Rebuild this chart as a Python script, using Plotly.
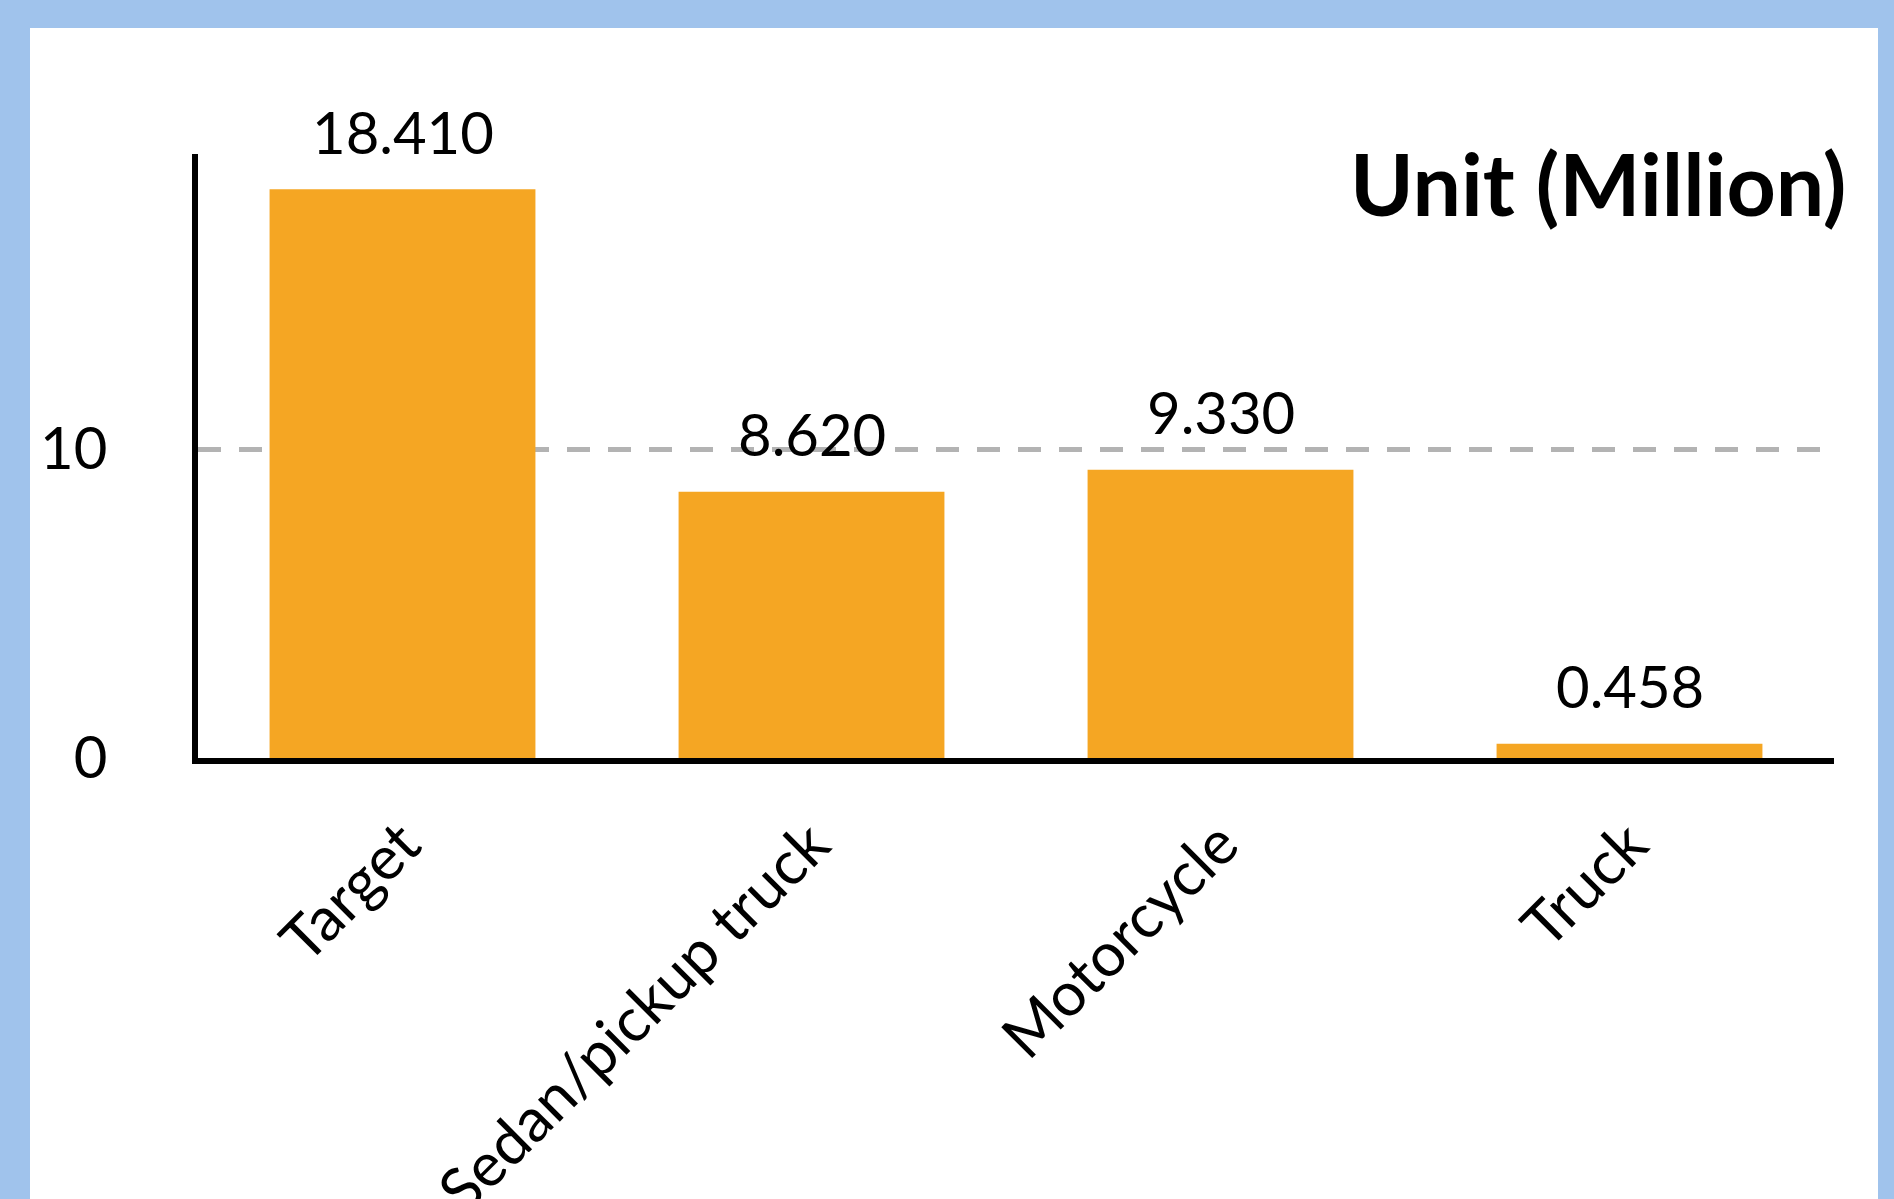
import plotly.graph_objects as go

# data
categories = ["Target", "Sedan/pickup truck", "Motorcycle", "Truck"]
units = [18.410, 8.620, 9.330, 0.458]
unit_labels = ["18.410", "8.620", "9.330", "0.458"]
y_ticks = [0, 10]

BAR_COLOR = "#F5A623"
BORDER_COLOR = "#a0c3ec"
FONT = "Lato"

W, H = 1894, 1199
L, R, T, B = 198, 60, 154, 441
pw = W - L - R
ph = H - T - B


def px_x(p):
    return (p - L) / pw


def px_y(p):
    return (H - B - p) / ph


fig = go.Figure()
fig.add_trace(go.Bar(
    x=categories,
    y=units,
    width=0.65,
    marker_color=BAR_COLOR,
    marker_line_width=0,
    hoverinfo="skip",
))

for c, v, t in zip(categories, units, unit_labels):
    fig.add_annotation(
        x=c, y=v, text=t, showarrow=False,
        yanchor="middle", yshift=58,
        font=dict(family=FONT, size=58, color="#000000"),
    )

fig.add_annotation(
    text="<b>Unit (Million)</b>",
    xref="paper", yref="paper",
    x=px_x(1848), y=px_y(183),
    xanchor="right", yanchor="middle",
    showarrow=False,
    font=dict(family=FONT, size=86, color="#000000"),
)

# patterned page border approximated with a solid frame
fig.add_shape(
    type="rect", xref="paper", yref="paper", layer="below",
    x0=px_x(30), x1=px_x(1878), y0=px_y(1199 + 20), y1=px_y(28),
    fillcolor="white", line_width=0,
)

fig.update_layout(
    width=W, height=H,
    margin=dict(l=L, r=R, t=T, b=B, autoexpand=False),
    paper_bgcolor=BORDER_COLOR,
    plot_bgcolor="white",
    showlegend=False,
    font=dict(family=FONT, size=58, color="#000000"),
    xaxis=dict(
        range=[-0.5, 3.5],
        showline=True, linecolor="#000000", linewidth=6,
        showgrid=False, zeroline=False,
        tickangle=-45,
        ticks="",
        ticklabelstandoff=20,
        tickfont=dict(family=FONT, size=61, color="#000000"),
    ),
    yaxis=dict(
        range=[0, 19.55],
        tickvals=y_ticks,
        showline=True, linecolor="#000000", linewidth=6,
        showgrid=True, gridcolor="#b3b3b3", gridwidth=5, griddash="23px,18px",
        zeroline=False,
        ticks="",
        ticklabelstandoff=73,
        tickfont=dict(family=FONT, size=58, color="#000000"),
    ),
)

fig.write_html(
    "out.html",
    config={"displayModeBar": False},
    post_script="document.body.style.margin='0';document.body.style.overflow='hidden';"
                "document.body.style.background='" + BORDER_COLOR + "';",
)
